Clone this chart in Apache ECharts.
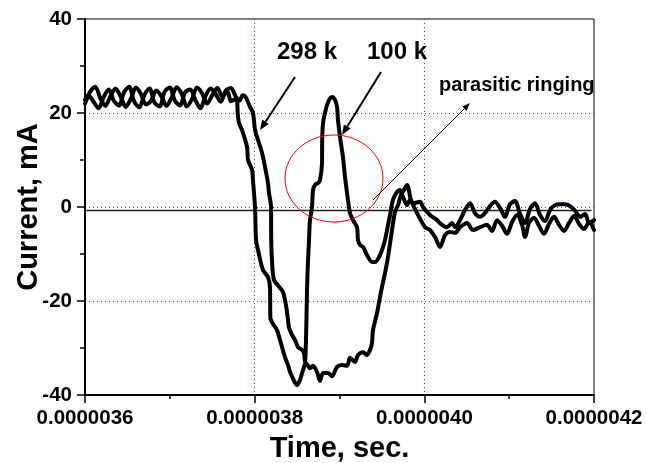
<!DOCTYPE html>
<html><head><meta charset="utf-8">
<script src="https://cdn.jsdelivr.net/npm/echarts@6/dist/echarts.min.js"></script>
<style>html,body{margin:0;padding:0;background:#fff}#c{width:646px;height:463px}</style>
</head><body><div id="c"></div>
<script>
// Time in microseconds, current in mA
const curve298 = [
[3.600,22.0],[3.606,24.5],[3.612,25.6],[3.618,23.2],[3.624,21.5],[3.630,23.6],[3.636,25.2],[3.642,23.5],[3.648,21.3],[3.654,23.0],
[3.660,25.4],[3.666,24.0],[3.672,21.8],[3.678,22.6],[3.684,24.8],[3.690,23.6],[3.696,21.5],[3.702,23.2],[3.708,25.5],[3.714,24.1],
[3.720,21.4],[3.726,22.9],[3.732,25.4],[3.738,24.2],[3.744,22.0],[3.750,23.8],[3.756,25.3],[3.762,23.5],[3.768,24.6],[3.772,22.5],
[3.776,22.8],[3.7792,22.6],[3.7800,20.0],[3.7815,17.9],[3.7851,16.4],[3.7910,12.8],[3.7922,10.0],[3.7969,7.9],[3.7980,5.7],[3.8004,0.0],
[3.8016,-7.0],[3.8039,-9.1],[3.8098,-13.4],[3.8157,-14.9],[3.8181,-17.2],[3.8185,-23.6],[3.8263,-26.2],[3.8299,-28.3],[3.8358,-32.0],[3.8393,-33.6],
[3.8417,-35.1],[3.8476,-37.4],[3.8499,-37.9],[3.8534,-36.8],[3.8570,-34.7],[3.8605,-33.2],[3.8652,-34.3],[3.8688,-33.8],[3.8735,-35.1],[3.8770,-37.0],
[3.8806,-35.3],[3.8865,-35.3],[3.8912,-36.0],[3.8971,-34.0],[3.9030,-33.6],[3.9089,-33.8],[3.9124,-32.1],[3.9183,-33.0],[3.9218,-31.5],[3.9277,-30.9],
[3.9324,-31.5],[3.9360,-30.4],[3.9383,-28.9],[3.9395,-26.2],[3.9442,-22.6],[3.9478,-19.1],[3.9501,-17.0],[3.9537,-14.0],[3.9572,-10.6],[3.9596,-7.7],
[3.9619,-4.9],[3.9654,-1.1],[3.9690,0.4],[3.9725,2.6],[3.9760,3.6],[3.9796,4.7],[3.9843,1.5],[3.9914,-1.3],[4.0008,-4.3],[4.0067,-4.9],
[4.0126,-6.4],[4.0185,-8.5],[4.0244,-6.0],[4.0303,-5.3],[4.0362,-5.5],[4.0421,-4.3],[4.0503,-3.4],[4.0574,-4.9],[4.0656,-4.3],[4.0739,-3.8],
[4.0798,-5.1],[4.0857,-2.8],[4.0916,-4.0],[4.0975,-5.7],[4.1034,-3.2],[4.1093,-1.7],[4.1152,-3.8],[4.1187,-6.4],[4.1234,-3.4],[4.1293,-2.3],
[4.1352,-4.0],[4.1411,-5.7],[4.1470,-3.6],[4.1529,-2.1],[4.1588,-3.8],[4.1647,-5.1],[4.1706,-3.4],[4.1765,-1.9],[4.1824,-3.6],[4.1883,-4.7],
[4.1942,-3.2],[4.2000,-4.9]
];
const curve100 = [
[3.600,22.8],[3.604,23.8],[3.610,22.4],[3.616,21.0],[3.622,23.4],[3.628,25.0],[3.634,22.6],[3.640,21.6],[3.646,24.4],[3.652,25.6],
[3.658,22.4],[3.664,21.2],[3.670,23.8],[3.676,25.2],[3.682,22.2],[3.688,21.4],[3.694,24.6],[3.700,25.4],[3.706,22.6],[3.712,21.6],
[3.718,24.4],[3.724,25.0],[3.730,22.8],[3.736,21.0],[3.742,23.6],[3.748,25.2],[3.754,24.0],[3.760,22.4],[3.766,24.8],[3.772,25.3],
[3.778,23.4],[3.782,22.6],[3.786,23.8],[3.790,23.2],[3.7945,21.3],[3.7980,20.0],[3.8004,16.4],[3.8039,14.3],[3.8087,11.5],[3.8122,8.5],
[3.8157,5.1],[3.8169,3.0],[3.8193,0.0],[3.8195,-7.0],[3.8204,-11.3],[3.8228,-15.5],[3.8299,-17.2],[3.8334,-18.1],[3.8369,-20.9],[3.8393,-24.0],
[3.8405,-25.7],[3.8440,-27.2],[3.8476,-28.3],[3.8511,-29.8],[3.8558,-30.4],[3.8582,-31.1],[3.8593,-33.0],[3.8605,-28.3],[3.8617,-17.7],[3.8629,-11.3],
[3.8641,-7.0],[3.8652,-2.8],[3.8676,0.0],[3.8688,3.6],[3.8711,4.7],[3.8747,5.1],[3.8770,5.7],[3.8794,9.4],[3.8796,14.3],[3.8806,17.9],
[3.8829,20.0],[3.8865,22.3],[3.8912,23.4],[3.8947,22.8],[3.8971,21.3],[3.8982,18.5],[3.9006,14.9],[3.9041,10.6],[3.9065,6.4],[3.9089,3.0],
[3.9124,-1.3],[3.9159,-2.8],[3.9206,-4.3],[3.9218,-7.0],[3.9242,-8.1],[3.9277,-8.5],[3.9324,-10.2],[3.9383,-11.7],[3.9419,-11.7],[3.9478,-10.2],
[3.9513,-8.5],[3.9537,-7.0],[3.9560,-4.9],[3.9596,-1.7],[3.9631,1.5],[3.9678,3.2],[3.9713,3.6],[3.9749,2.1],[3.9796,0.4],[3.9831,1.5],
[3.9867,0.8],[3.9949,1.1],[3.9984,0.0],[4.0067,-1.7],[4.0150,-2.8],[4.0208,-3.8],[4.0267,-4.3],[4.0326,-3.4],[4.0362,-4.3],[4.0421,-2.8],
[4.0480,-0.6],[4.0539,0.8],[4.0597,-1.3],[4.0656,-2.1],[4.0715,-1.3],[4.0774,0.2],[4.0833,1.1],[4.0892,-0.2],[4.0951,-2.1],[4.1010,0.6],
[4.1069,1.3],[4.1128,-1.5],[4.1187,-3.4],[4.1246,-0.4],[4.1305,0.8],[4.1364,-1.7],[4.1423,-3.0],[4.1482,-0.6],[4.1541,0.4],[4.1600,0.6],
[4.1659,0.6],[4.1718,0.2],[4.1777,-0.8],[4.1836,-2.1],[4.1895,-1.5],[4.1942,-3.4],[4.2000,-2.8]
];
const baseT = [3.600, 4.197];
const baseV = [-0.75, -0.75];
const xMin = 3.6e-6, xMax = 4.2e-6, xStep = 0.2e-6;
const yMin = -40, yMax = 40, yStep = 20;

const toSec = arr => arr.map(p => [p[0] * 1e-6, p[1]]);
const baseData = baseT.map((t, i) => [t * 1e-6, baseV[i]]);

const FONT = 'Liberation Sans';
const gridLine = {show: true, showMinLine: false, showMaxLine: false, lineStyle: {color: '#3c3cff', type: [1, 3], width: 1}};
const lbl = {color: '#000', fontSize: 20.5, fontWeight: 'bold', fontFamily: FONT};
const nameStyle = {color: '#000', fontSize: 29, fontWeight: 'bold', fontFamily: FONT};

const chart = echarts.init(document.getElementById('c'), null, {renderer: 'canvas'});
chart.setOption({
  animation: false,
  backgroundColor: '#fff',
  grid: {left: 85, top: 19, width: 509, height: 376, show: true, borderColor: '#000', borderWidth: 1, backgroundColor: 'transparent', containLabel: false, outerBoundsMode: 'none'},
  xAxis: {
    type: 'value', min: xMin, max: xMax, interval: xStep,
    name: 'Time, sec.', nameLocation: 'middle', nameGap: 39, nameMoveOverlap: false, nameTextStyle: nameStyle,
    axisLine: {show: true, onZero: false, lineStyle: {color: '#000', width: 2}},
    axisTick: {show: true, length: 8, lineStyle: {color: '#000', width: 1.5}},
    minorTick: {show: true, splitNumber: 2, length: 4, lineStyle: {color: '#000', width: 1.5}},
    axisLabel: Object.assign({margin: 13, formatter: v => v.toFixed(7)}, lbl),
    splitLine: gridLine
  },
  yAxis: {
    type: 'value', min: yMin, max: yMax, interval: yStep,
    name: 'Current, mA', nameLocation: 'middle', nameRotate: 90, nameGap: 42, nameMoveOverlap: false, nameTextStyle: nameStyle,
    axisLine: {show: true, onZero: false, lineStyle: {color: '#000', width: 2}},
    axisTick: {show: true, length: 8, lineStyle: {color: '#000', width: 1.5}},
    minorTick: {show: true, splitNumber: 2, length: 5, lineStyle: {color: '#000', width: 1.5}},
    axisLabel: Object.assign({margin: 13}, lbl),
    splitLine: gridLine
  },
  series: [
    {type: 'line', name: 'baseline', data: baseData, showSymbol: false, silent: true, z: 1,
     lineStyle: {color: '#222', width: 1.5}},
    {type: 'line', name: '298 k', data: toSec(curve298), showSymbol: false, z: 3, smooth: 0.3,
     lineStyle: {color: '#000', width: 4, cap: 'round', join: 'round'}},
    {type: 'line', name: '100 k', data: toSec(curve100), showSymbol: false, z: 3, smooth: 0.3,
     lineStyle: {color: '#000', width: 4, cap: 'round', join: 'round'}}
  ],
  graphic: [
    {type: 'ellipse', shape: {cx: 334, cy: 178.5, rx: 49, ry: 43.5}, style: {fill: 'none', stroke: '#ff0000', lineWidth: 1}, z: 10},
    {type: 'line', shape: {x1: 295, y1: 77, x2: 265.5, y2: 121.7}, style: {stroke: '#000', lineWidth: 2}, z: 10},
    {type: 'polygon', shape: {points: [[260, 130], [268.8, 123.9], [262.2, 119.4]]}, style: {fill: '#000'}, z: 10},
    {type: 'line', shape: {x1: 381, y1: 72, x2: 347.3, y2: 126.5}, style: {stroke: '#000', lineWidth: 2}, z: 10},
    {type: 'polygon', shape: {points: [[342, 135], [350.7, 128.6], [343.9, 124.4]]}, style: {fill: '#000'}, z: 10},
    {type: 'line', shape: {x1: 373, y1: 200, x2: 464.3, y2: 108.7}, style: {stroke: '#000', lineWidth: 1}, z: 10},
    {type: 'polygon', shape: {points: [[470, 103], [466.5, 110.8], [462.2, 106.5]]}, style: {fill: '#000'}, z: 10},
    {type: 'text', x: 277, y: 52, style: {text: '298 k', font: 'bold 24px "Liberation Sans"', fill: '#000', align: 'left', verticalAlign: 'middle', textAlign: 'left', textVerticalAlign: 'middle'}, z: 10},
    {type: 'text', x: 367, y: 52, style: {text: '100 k', font: 'bold 24px "Liberation Sans"', fill: '#000', align: 'left', verticalAlign: 'middle', textAlign: 'left', textVerticalAlign: 'middle'}, z: 10},
    {type: 'text', x: 439, y: 85, style: {text: 'parasitic ringing', font: 'bold 20px "Liberation Sans"', fill: '#000', align: 'left', verticalAlign: 'middle', textAlign: 'left', textVerticalAlign: 'middle'}, z: 10}
  ]
});
</script>
</body></html>
